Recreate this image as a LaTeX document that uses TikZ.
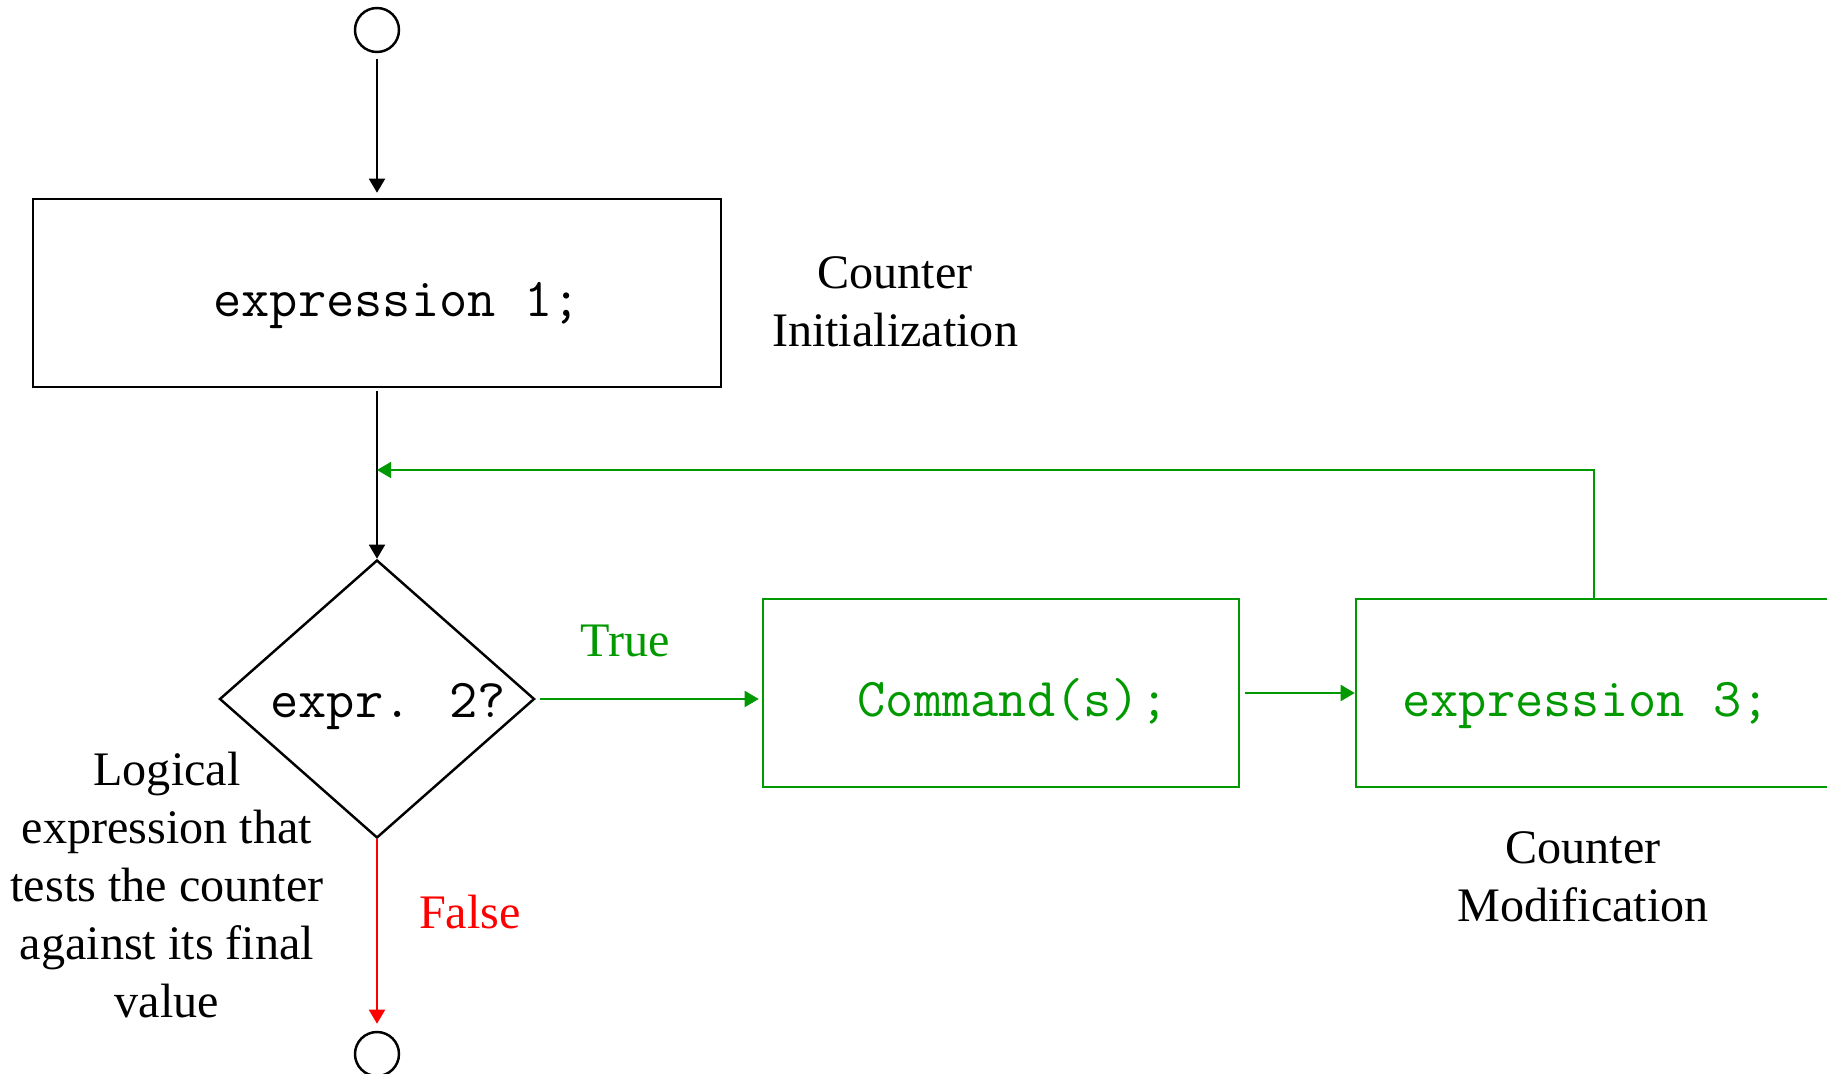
\documentclass[tikz,border=0pt]{standalone}
\usepackage{fontspec}
\setmainfont{Liberation Serif}
\usetikzlibrary{shapes.geometric}
\usetikzlibrary{arrows.meta}
\definecolor{green}{RGB}{0,153,0}
\definecolor{red}{RGB}{255,0,0}

\begin{document}
\begin{tikzpicture}[
  line width=0.7pt,
  font=\fontsize{13.7}{16.5}\selectfont,
  code/.style={font=\fontsize{15.6}{18}\selectfont\ttfamily},
  arr/.style={-{Triangle[length=4pt,width=4.5pt]}},
  term/.style={draw, circle, minimum size=0.44cm, inner sep=0pt},
  box/.style={draw, rectangle, code, minimum width=#1, minimum height=1.88cm,
              inner sep=0pt, text height=0.5cm, text depth=0.04cm},
  test/.style={draw, diamond, code, shape aspect=1.13, minimum width=3.15cm,
               minimum height=2.78cm, inner sep=0pt, text height=0.4cm,
               text depth=0.04cm}
]
\useasboundingbox (0,0) rectangle (18.27,10.73);

%---------------------------------------
% Start and end points
%---------------------------------------
\node[term] (start) at (3.77,10.43) {};
\node[term] (stop) at (3.77,0.19) {};

%---------------------------------------
% Loop parts
%---------------------------------------
\node[box=6.88cm] (init) at (3.77,7.80) {\hspace*{0.4cm}expression 1;};
\node[test] (cond) at (3.77,3.74) {\hspace*{0.22cm}expr. 2?};
\node[box=4.76cm, green] (body) at (10.01,3.80) {\hspace*{0.24cm}Command(s);};
\node[box=4.76cm, green] (update) at (15.94,3.80) {expression 3;\hspace*{0.16cm}};

% Notes beside the parts
\node[align=center] (initlbl) at (8.95,7.71) {Counter\\Initialization};
\node[align=center] (updatelbl) at (15.83,1.96) {Counter\\Modification};
\node[align=center] (condlbl) at (1.67,1.88)
  {Logical\\expression that\\tests the counter\\against its final\\value};
\node[green] (truelbl) at (6.25,4.32) {True};
\node[red] (falselbl) at (4.70,1.61) {False};

%---------------------------------------
% Flow
%---------------------------------------
\coordinate (back) at (3.77,6.03);

\draw[arr, shorten <=0.06cm, shorten >=0.05cm] (start) -- (init);
\draw[arr, shorten <=0.03cm] (init) -- (cond);
\draw[arr, green, shorten <=0.04cm, shorten >=0.03cm]
  (cond.east) -- (body.west |- cond.east);
\draw[arr, green, shorten <=0.05cm] (body) -- (update);
\draw[arr, green] (update.north) |- (back);
\draw[arr, red, shorten >=0.07cm] (cond) -- (stop);

\end{tikzpicture}
\end{document}
